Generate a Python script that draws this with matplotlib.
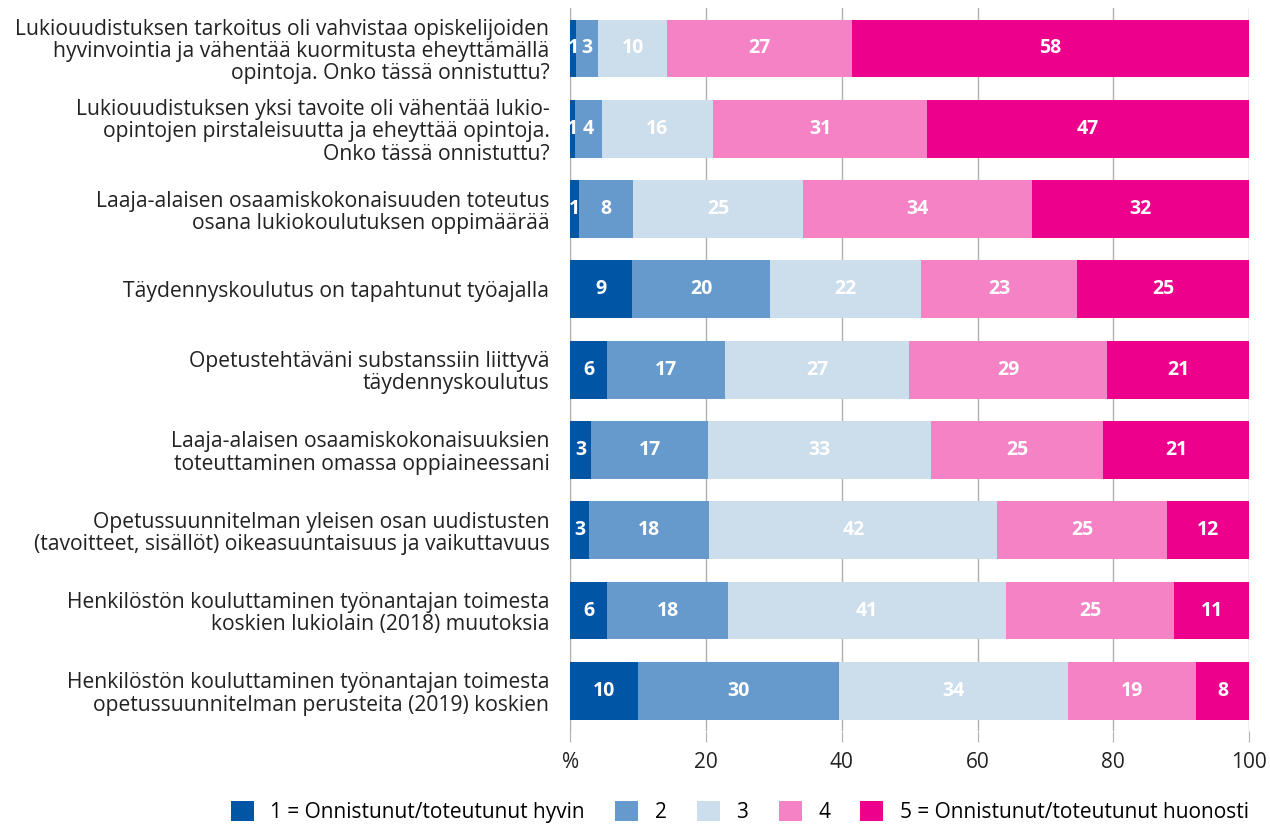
import matplotlib.pyplot as plt
import numpy as np

plt.rcParams['font.family'] = ['Open Sans', 'DejaVu Sans']

questions = [
    "Lukiouudistuksen tarkoitus oli vahvistaa opiskelijoiden\nhyvinvointia ja vähentää kuormitusta eheyttämällä\nopintoja. Onko tässä onnistuttu?",
    "Lukiouudistuksen yksi tavoite oli vähentää lukio-\nopintojen pirstaleisuutta ja eheyttää opintoja.\nOnko tässä onnistuttu?",
    "Laaja-alaisen osaamiskokonaisuuden toteutus\nosana lukiokoulutuksen oppimäärää",
    "Täydennyskoulutus on tapahtunut työajalla",
    "Opetustehtäväni substanssiin liittyvä\ntäydennyskoulutus",
    "Laaja-alaisen osaamiskokonaisuuksien\ntoteuttaminen omassa oppiaineessani",
    "Opetussuunnitelman yleisen osan uudistusten\n(tavoitteet, sisällöt) oikeasuuntaisuus ja vaikuttavuus",
    "Henkilöstön kouluttaminen työnantajan toimesta\nkoskien lukiolain (2018) muutoksia",
    "Henkilöstön kouluttaminen työnantajan toimesta\nopetussuunnitelman perusteita (2019) koskien",
]

series_names = ["1 = Onnistunut/toteutunut hyvin", "2", "3", "4",
                "5 = Onnistunut/toteutunut huonosti"]
colors = ["#0055A5", "#6699CC", "#CCDDEC", "#F582C5", "#EC008C"]

# printed labels (rounded %)
labels = [
    [1, 3, 10, 27, 58],
    [1, 4, 16, 31, 47],
    [1, 8, 25, 34, 32],
    [9, 20, 22, 23, 25],
    [6, 17, 27, 29, 21],
    [3, 17, 33, 25, 21],
    [3, 18, 42, 25, 12],
    [6, 18, 41, 25, 11],
    [10, 30, 34, 19, 8],
]

# segment widths as drawn (%)
shares = [
    [0.9, 3.2, 10.2, 27.2, 58.5],
    [0.7, 4.0, 16.3, 31.6, 47.4],
    [1.3, 8.0, 25.0, 33.7, 32.0],
    [9.1, 20.4, 22.2, 23.0, 25.3],
    [5.4, 17.4, 27.1, 29.2, 20.9],
    [3.1, 17.2, 32.9, 25.3, 21.5],
    [2.8, 17.7, 42.4, 25.0, 12.1],
    [5.4, 17.9, 40.9, 24.8, 11.0],
    [10.0, 29.6, 33.7, 18.9, 7.8],
]

shares = np.array(shares)
labels = np.array(labels)
y = np.arange(len(questions))

fig = plt.figure(figsize=(12.7, 8.26), dpi=100)
ax = fig.add_axes([0.449, 0.115, 0.5345, 0.875])

left = np.zeros(len(questions))
for j in range(5):
    ax.barh(y, shares[:, j], left=left, height=0.72, color=colors[j],
            label=series_names[j], zorder=3)
    for i in range(len(questions)):
        ax.text(left[i] + shares[i, j] / 2, y[i], str(labels[i, j]),
                ha='center', va='center', color='white', fontsize=14,
                fontweight='bold', zorder=4)
    left += shares[:, j]

ax.set_ylim(len(questions) - 0.5, -0.5)
ax.set_xlim(0, 100)
ax.set_yticks(y)
ax.set_yticklabels(questions, fontsize=15.2, color='#222222', linespacing=1.08)
ax.tick_params(axis='y', length=0, pad=15)
ax.set_xticks([0, 20, 40, 60, 80, 100])
ax.set_xticklabels(['%', '20', '40', '60', '80', '100'], fontsize=15,
                   color='#222222')
ax.tick_params(axis='x', length=8, color='#b0b0b0', pad=7)
ax.grid(axis='x', color='#b0b0b0', linewidth=1, zorder=0)
for s in ['top', 'right', 'bottom']:
    ax.spines[s].set_visible(False)
ax.spines['left'].set_color('#b0b0b0')

ax.legend(loc='center', bbox_to_anchor=(0.25, -0.112), ncol=5,
          frameon=False, fontsize=15, handlelength=1.1, handleheight=1.1,
          handletextpad=0.8, columnspacing=1.45)

fig.savefig('out.png', dpi=100)
